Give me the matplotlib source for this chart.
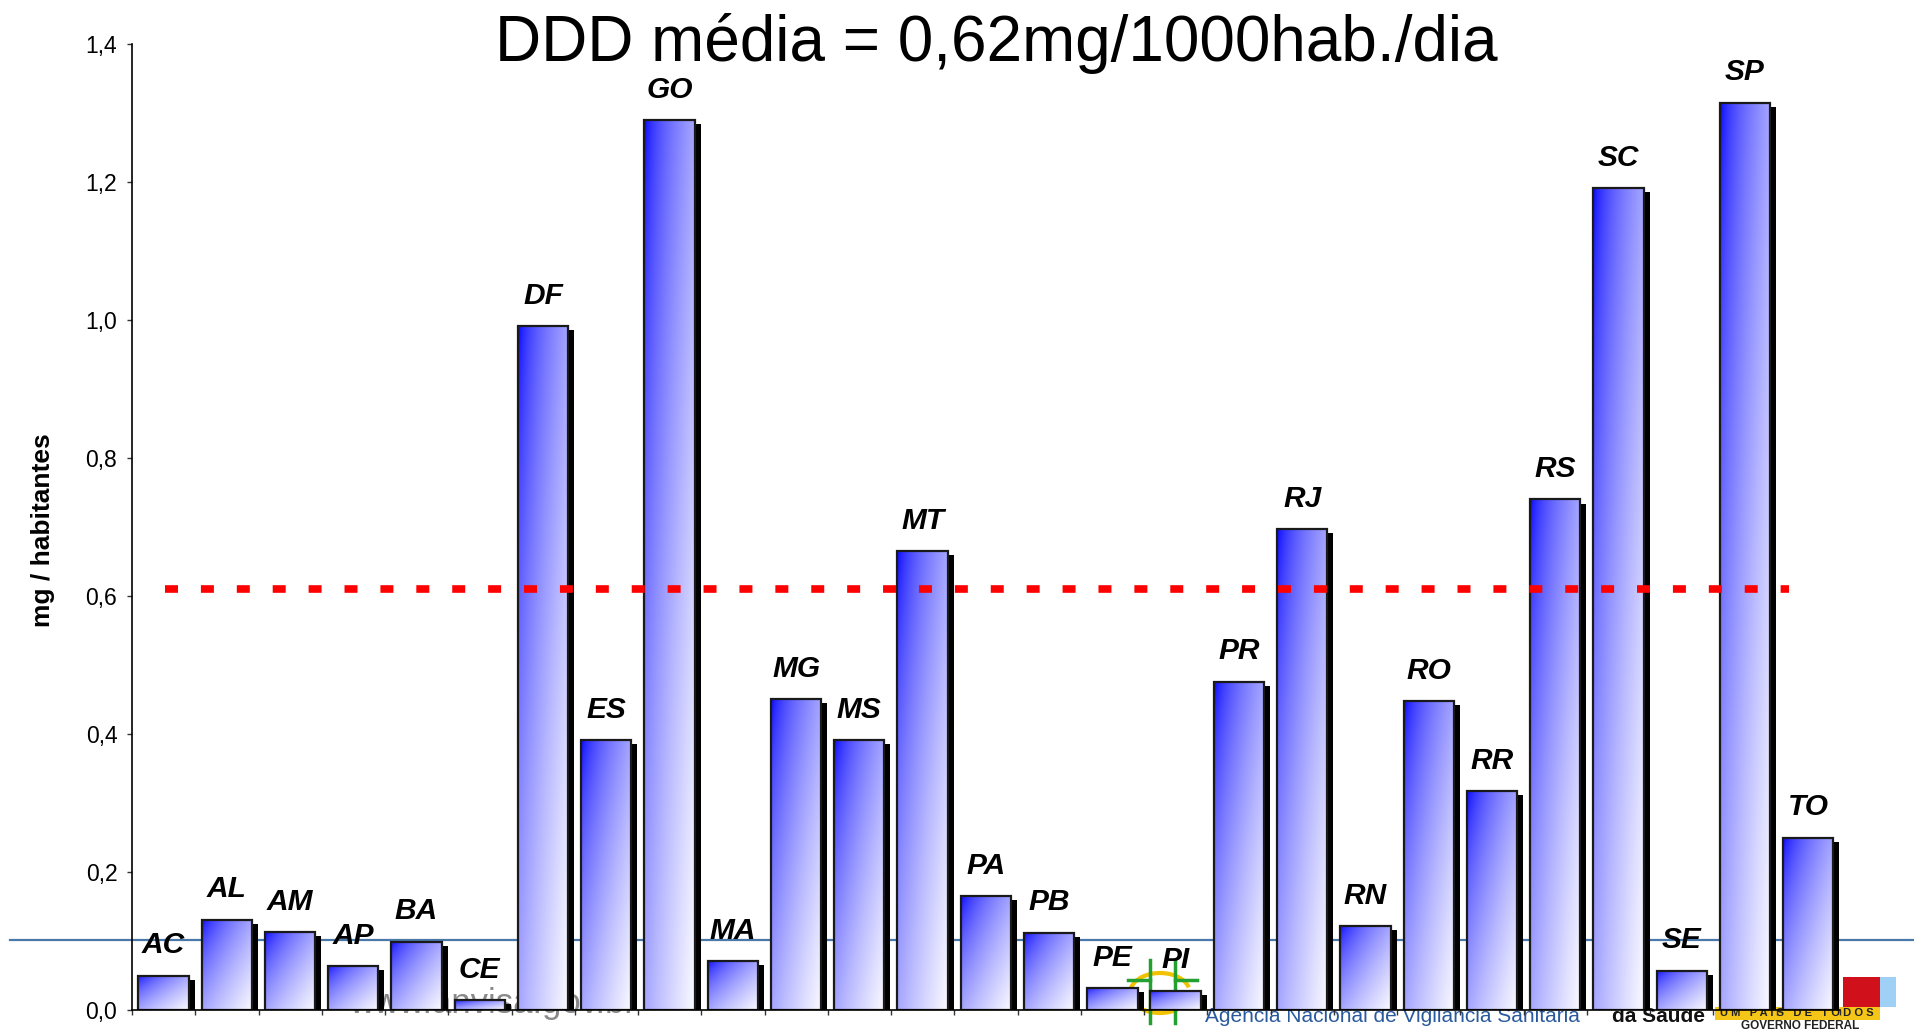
import numpy as np
import matplotlib
matplotlib.use('Agg')
import matplotlib.pyplot as plt
from matplotlib import font_manager
from matplotlib.patches import Rectangle, Arc
from matplotlib.lines import Line2D

# Data
states = ['AC', 'AL', 'AM', 'AP', 'BA', 'CE', 'DF', 'ES', 'GO', 'MA', 'MG', 'MS', 'MT', 'PA',
          'PB', 'PE', 'PI', 'PR', 'RJ', 'RN', 'RO', 'RR', 'RS', 'SC', 'SE', 'SP', 'TO']
ddd = [0.050, 0.131, 0.113, 0.064, 0.099, 0.014, 0.991, 0.391, 1.290, 0.071, 0.451, 0.391, 0.665, 0.165,
       0.112, 0.032, 0.028, 0.476, 0.697, 0.122, 0.448, 0.317, 0.740, 1.191, 0.057, 1.315, 0.250]
media = 0.61
yticks = [0.0, 0.2, 0.4, 0.6, 0.8, 1.0, 1.2, 1.4]
ytick_labels = ['0,0', '0,2', '0,4', '0,6', '0,8', '1,0', '1,2', '1,4']
title = 'DDD média = 0,62mg/1000hab./dia'
ylabel = 'mg / habitantes'


def has_font(name):
    try:
        font_manager.findfont(name, fallback_to_default=False)
        return True
    except ValueError:
        return False


narrow = has_font('Liberation Sans Narrow')
label_family = ['Liberation Sans Narrow', 'Liberation Sans'] if narrow else ['Liberation Sans']
label_size = 23 if narrow else 21.5
plt.rcParams['font.family'] = ['Liberation Sans', 'DejaVu Sans']

W, H = 1914, 1032
fig = plt.figure(figsize=(W / 100, H / 100), dpi=100)


def fx(px):
    return px / W


def fy(py):
    return 1 - py / H


ax = fig.add_axes([fx(132), fy(1010), fx(1840 - 132), (1010 - 44) / H])
ax.patch.set_alpha(0)

# background slide decorations (behind the bars)
ax.add_line(Line2D([fx(10), 1], [fy(940), fy(940)], transform=fig.transFigure, color='#4a78aa',
                   lw=1.6, zorder=1, clip_on=False))
ax.text(fx(493), fy(1003), 'www.anvisa.gov.br', transform=fig.transFigure, ha='center', va='center',
        fontsize=25, color='#8a8a8a', zorder=1, clip_on=False)
ax.text(fx(1392), fy(1016), 'Agência Nacional de Vigilância Sanitária', transform=fig.transFigure,
        ha='center', va='center', fontsize=15, color='#2a5a9e', zorder=1, clip_on=False)
ax.text(fx(1658), fy(1017), 'da Saúde', transform=fig.transFigure, ha='center', va='center',
        fontsize=15, fontweight='bold', color='#111111', zorder=1, clip_on=False)
ax.add_patch(Rectangle((fx(1715), fy(1020)), fx(1880 - 1715), 13 / H, transform=fig.transFigure,
                       facecolor='#f5c518', edgecolor='none', zorder=1, clip_on=False))
ax.text(fx(1797), fy(1013.5), 'U M   P A Í S   D E   T O D O S', transform=fig.transFigure, ha='center',
        va='center', fontsize=8, fontweight='bold', color='#222222', zorder=1.1, clip_on=False)
ax.text(fx(1800), fy(1026), 'GOVERNO FEDERAL', transform=fig.transFigure, ha='center', va='center',
        fontsize=8.5, fontweight='bold', color='#222222', zorder=1.1, clip_on=False)
ax.add_patch(Rectangle((fx(1843), fy(1007)), fx(37), 30 / H, transform=fig.transFigure,
                       facecolor='#d0101a', edgecolor='none', zorder=1, clip_on=False))
ax.add_patch(Rectangle((fx(1880), fy(1007)), fx(16), 30 / H, transform=fig.transFigure,
                       facecolor='#9fd0f5', edgecolor='none', zorder=1, clip_on=False))
ax.add_patch(Arc((fx(1160), fy(993)), fx(60), 40 / H, theta1=20, theta2=300, transform=fig.transFigure,
                 color='#f2c200', lw=3, zorder=1, clip_on=False))
for gx in (1150, 1175):
    ax.add_line(Line2D([fx(gx), fx(gx)], [fy(960), fy(1023)], transform=fig.transFigure,
                       color='#22a030', lw=2.5, zorder=1, clip_on=False))
ax.add_line(Line2D([fx(1128), fx(1150)], [fy(980), fy(980)], transform=fig.transFigure,
                   color='#22a030', lw=2.5, zorder=1, clip_on=False))
ax.add_line(Line2D([fx(1175), fx(1197)], [fy(980), fy(980)], transform=fig.transFigure,
                   color='#22a030', lw=2.5, zorder=1, clip_on=False))

# gradient for bars: blue top-left to white bottom-right
n = 80
u = np.linspace(0, 1, n)[None, :]
v = np.linspace(0, 1, n)[:, None]
t = np.clip((u + v) / 2, 0, 1) ** 0.6
blue = np.array([0, 0, 255]) / 255
white = np.array([250, 250, 255]) / 255
grad = blue[None, None, :] * (1 - t[..., None]) + white[None, None, :] * t[..., None]

bar_w = 0.795
shadow_dx = 0.095
shadow_dy = 0.006
for i, (s, val) in enumerate(zip(states, ddd)):
    x0 = i + 0.1
    ax.add_patch(Rectangle((x0 + shadow_dx, 0), bar_w, val - shadow_dy, facecolor='black',
                           edgecolor='none', zorder=2))
    ax.imshow(grad, extent=[x0, x0 + bar_w, 0, val], aspect='auto', origin='upper',
              interpolation='bilinear', zorder=3)
    ax.add_patch(Rectangle((x0, 0), bar_w, val, facecolor='none', edgecolor='#1a1a1a',
                           lw=1.6, zorder=4))
    ax.annotate(s, xy=(x0 + bar_w / 2, val), xytext=(0, 16), textcoords='offset points',
                ha='center', va='baseline', fontsize=label_size, fontweight='bold',
                fontstyle='italic', family=label_family, zorder=5)

# average line
ax.plot([0.52, 26.2], [media, media], color='#ff0000', lw=5.5, linestyle=(0, (1.7, 3.0)),
        solid_capstyle='butt', dash_capstyle='butt', zorder=6)

ax.set_xlim(0, len(states))
ax.set_ylim(0, 1.4)
ax.set_xticks(np.arange(len(states) + 1))
ax.set_xticklabels([])
ax.set_yticks(yticks)
ax.set_yticklabels(ytick_labels, fontsize=16.5)
ax.tick_params(axis='both', direction='out', length=3.6, width=1, color='#333333', pad=7)
for side in ('top', 'right'):
    ax.spines[side].set_visible(False)
for side in ('left', 'bottom'):
    ax.spines[side].set_linewidth(1.2)
    ax.spines[side].set_zorder(7)

fig.text(fx(43), fy(530), ylabel, rotation=90, ha='center', va='center', fontsize=19, fontweight='bold')
fig.text(fx(996), fy(43), title, ha='center', va='center', fontsize=46)

fig.savefig('out.png', dpi=100)
